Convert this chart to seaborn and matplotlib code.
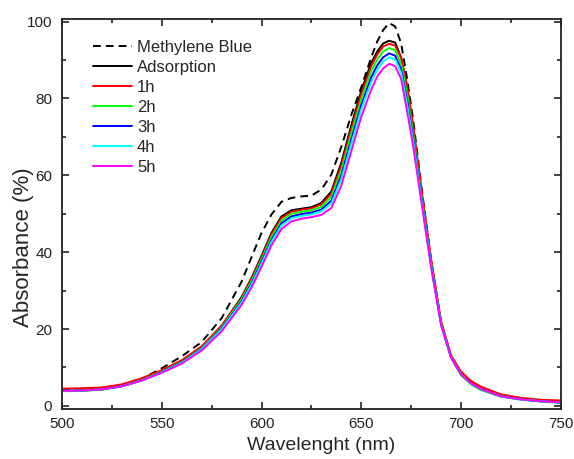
import numpy as np
import pandas as pd
import matplotlib
matplotlib.use("Agg")
import matplotlib.pyplot as plt
import seaborn as sns
from matplotlib.ticker import MultipleLocator

wavelength = [500, 510, 520, 530, 540, 550, 560, 570, 580, 590, 595, 600, 605, 610, 615,
              620, 625, 630, 635, 640, 645, 650, 655, 658, 661, 664, 667, 670, 673, 676,
              680, 685, 690, 695, 700, 705, 710, 720, 730, 740, 750]

methylene_blue = [4.1, 4.2, 4.5, 5.4, 7.0, 9.8, 12.9, 16.6, 22.8, 32.3, 38.7, 45.0, 49.8, 53.1, 54.1,
                  54.5, 54.7, 56.3, 60.2, 67.4, 75.7, 82.9, 90.7, 94.8, 97.8, 99.6, 98.7, 94.3, 85.0, 74.5,
                  57.5, 37.8, 21.8, 12.8, 8.2, 5.8, 4.4, 2.6, 1.8, 1.3, 1.0]
adsorption = [3.9, 4.0, 4.3, 5.2, 6.8, 9.0, 11.6, 15.3, 20.8, 28.3, 33.3, 39.0, 45.0, 49.3, 50.9,
              51.3, 51.7, 52.8, 55.8, 63.3, 73.0, 82.0, 89.3, 92.2, 94.3, 95.0, 94.5, 90.6, 82.9, 72.2,
              56.1, 37.6, 21.5, 12.8, 8.4, 6.0, 4.5, 2.6, 1.8, 1.3, 1.1]
h1 = [4.5, 4.6, 4.8, 5.6, 7.2, 9.3, 11.9, 15.5, 20.9, 28.0, 33.0, 38.6, 44.6, 48.9, 50.5,
      51.0, 51.4, 52.4, 55.2, 62.5, 72.1, 81.1, 88.4, 91.4, 93.5, 94.2, 93.7, 90.5, 83.2, 73.0,
      57.0, 38.2, 22.0, 13.2, 8.9, 6.5, 5.0, 3.0, 2.1, 1.6, 1.4]
h2 = [3.8, 3.9, 4.2, 5.1, 6.7, 8.9, 11.4, 15.0, 20.4, 27.7, 32.5, 38.1, 44.0, 48.2, 50.0,
      50.5, 50.9, 51.8, 54.4, 61.4, 70.9, 79.8, 87.1, 90.1, 92.2, 93.1, 92.5, 88.8, 80.9, 70.7,
      55.3, 37.1, 21.3, 12.6, 8.0, 5.6, 4.1, 2.4, 1.6, 1.1, 0.8]
h3 = [3.9, 4.0, 4.3, 5.1, 6.6, 8.8, 11.3, 14.8, 20.1, 27.2, 31.9, 37.5, 43.2, 47.5, 49.3,
      49.9, 50.3, 51.1, 53.4, 60.0, 69.3, 78.3, 85.5, 88.6, 90.7, 91.7, 91.1, 87.5, 79.4, 69.6,
      54.7, 36.7, 21.2, 12.6, 8.2, 5.8, 4.3, 2.5, 1.7, 1.2, 0.9]
h4 = [3.9, 4.0, 4.3, 5.1, 6.6, 8.7, 11.2, 14.7, 19.9, 26.9, 31.5, 37.0, 42.7, 46.9, 48.8,
      49.4, 49.8, 50.6, 52.7, 59.0, 68.2, 77.1, 84.3, 87.5, 89.6, 90.7, 90.1, 86.6, 78.3, 68.8,
      54.2, 36.4, 21.1, 12.6, 8.2, 5.8, 4.3, 2.5, 1.7, 1.2, 0.9]
h5 = [3.9, 4.0, 4.3, 5.1, 6.6, 8.6, 11.0, 14.4, 19.4, 26.3, 30.8, 36.2, 41.8, 46.0, 48.0,
      48.7, 49.1, 49.7, 51.5, 57.3, 66.3, 75.2, 82.3, 85.7, 87.8, 89.0, 88.4, 85.0, 76.5, 67.5,
      53.5, 36.0, 21.0, 12.5, 8.2, 5.9, 4.4, 2.5, 1.7, 1.2, 0.9]

series_names = ["Methylene Blue", "Adsorption", "1h", "2h", "3h", "4h", "5h"]
series_values = [methylene_blue, adsorption, h1, h2, h3, h4, h5]
colors = ["black", "black", "#ff0000", "#00ff00", "#0000ff", "#00ffff", "#ff00ff"]
x_ticks = [500, 550, 600, 650, 700, 750]
y_ticks = [0, 20, 40, 60, 80, 100]

rows = []
for name, vals in zip(series_names, series_values):
    for w, v in zip(wavelength, vals):
        rows.append({"wavelength": w, "absorbance": v, "series": name})
df = pd.DataFrame(rows)

sns.set_style("ticks")
plt.rcParams["font.family"] = ["Liberation Sans", "DejaVu Sans"]

fig = plt.figure(figsize=(5.74, 4.59), dpi=100)
ax = fig.add_axes([0.108, 0.109, 0.869, 0.850])

sns.lineplot(data=df, x="wavelength", y="absorbance", hue="series", style="series",
             hue_order=series_names, style_order=series_names,
             palette=dict(zip(series_names, colors)),
             dashes={n: ((4, 2.6) if n == "Methylene Blue" else "") for n in series_names},
             linewidth=1.4, ax=ax, legend=True)

ax.set_xlim(500, 750)
ax.set_ylim(-0.8, 100.7)
ax.set_xticks(x_ticks)
ax.set_yticks(y_ticks)
ax.xaxis.set_minor_locator(MultipleLocator(25))
ax.yaxis.set_minor_locator(MultipleLocator(10))
ax.tick_params(which="both", direction="in", top=True, right=True, labeltop=False, labelright=False,
               labelsize=11, colors="#222222", width=1.2)
ax.tick_params(axis="x", which="major", pad=6)
ax.tick_params(axis="y", which="major", pad=7)
ax.tick_params(which="major", length=5)
ax.tick_params(which="minor", length=3)
for sp in ax.spines.values():
    sp.set_linewidth(1.3)
    sp.set_color("#222222")

ax.set_xlabel("Wavelenght (nm)", fontsize=14, va="top")
ax.xaxis.set_label_coords(0.519, -0.072)
ax.set_ylabel("Absorbance (%)", fontsize=16, va="bottom")
ax.yaxis.set_label_coords(-0.056, 0.414)

handles, labels = ax.get_legend_handles_labels()
ax.legend(handles=handles, labels=labels, loc="upper left", bbox_to_anchor=(0.062, 0.945),
          frameon=False, fontsize=12, handlelength=2.35, handletextpad=0.3,
          labelspacing=0.3, borderpad=0, borderaxespad=0)

fig.savefig("out.png", dpi=100)
